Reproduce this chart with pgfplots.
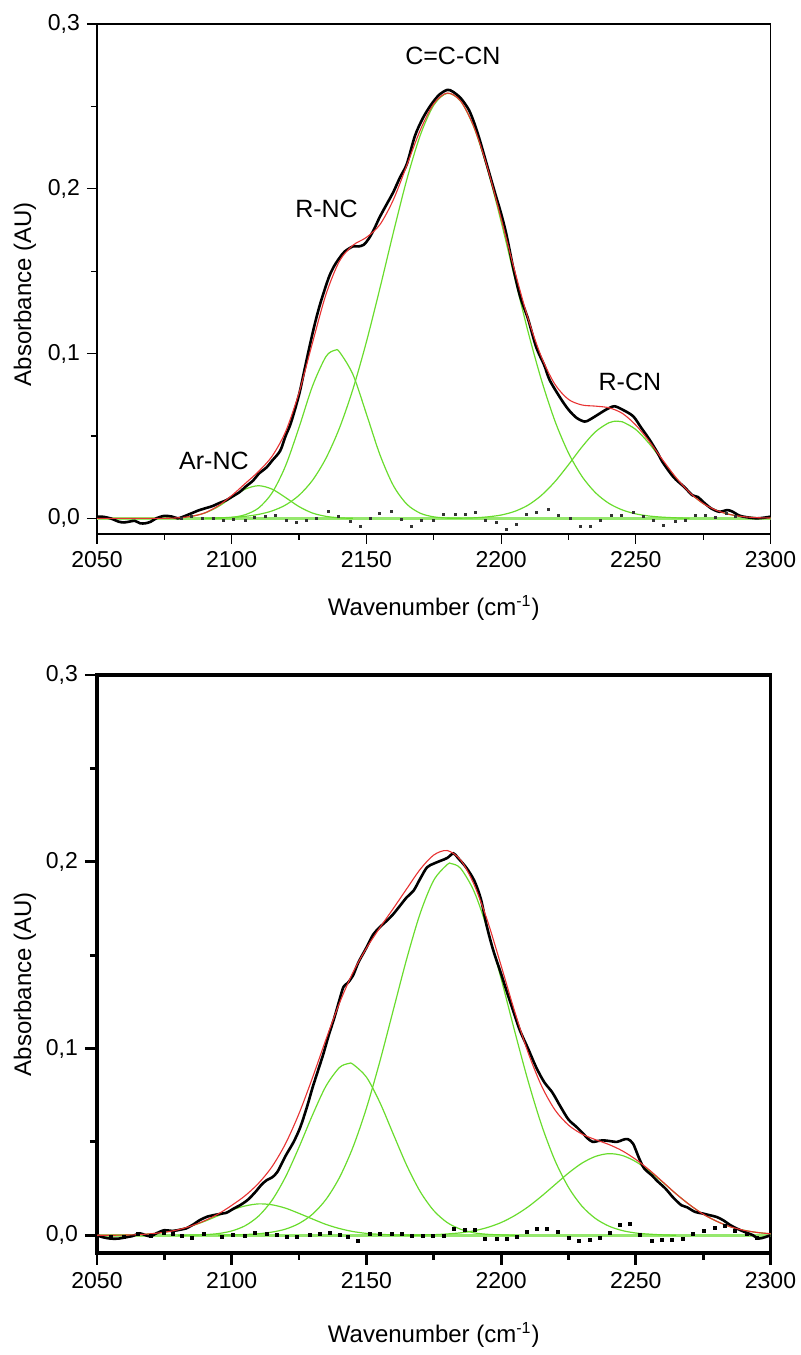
\documentclass[border=0pt]{standalone}
\usepackage{pgfplots}
\pgfplotsset{compat=1.18}
\usepackage{pgfplotstable}
\usepackage{fontspec}
\setmainfont{Liberation Sans}

\definecolor{fitgreen}{RGB}{105,220,45}
\definecolor{basegreen}{RGB}{150,232,110}
\definecolor{fitred}{RGB}{232,50,50}

% ---------------- top panel ----------------
\pgfplotstableread{
x y
2050 0.001
2052 0.001
2055 0.000
2058 -0.002
2060 -0.0025
2062 -0.002
2064 -0.0015
2066 -0.003
2068 -0.003
2070 -0.002
2072 0.000
2075 0.0015
2078 0.001
2080 0.000
2082 0.001
2085 0.003
2088 0.005
2090 0.006
2093 0.0075
2095 0.009
2098 0.011
2100 0.013
2103 0.016
2105 0.019
2108 0.023
2110 0.027
2113 0.031
2115 0.035
2118 0.041
2120 0.050
2122 0.058
2125 0.075
2127 0.090
2129 0.105
2131 0.119
2133 0.131
2136 0.146
2138 0.153
2140 0.158
2142 0.162
2145 0.165
2147 0.165
2149 0.166
2151 0.170
2153 0.176
2155 0.183
2158 0.192
2160 0.198
2162.5 0.207
2165 0.215
2168 0.232
2171 0.243
2174 0.251
2177 0.257
2180 0.260
2182 0.259
2185 0.255
2188 0.248
2190 0.240
2192 0.230
2195 0.213
2198 0.196
2200 0.185
2202 0.172
2204.5 0.152
2207 0.135
2210 0.121
2213 0.104
2216 0.093
2218 0.084
2222 0.073
2225 0.066
2228 0.061
2231 0.0587
2233 0.060
2236 0.063
2239 0.066
2242 0.068
2245 0.066
2249 0.062
2252 0.055
2255 0.048
2258 0.040
2260 0.034
2264 0.025
2268 0.019
2271 0.014
2273 0.013
2275 0.010
2278 0.006
2281 0.004
2284 0.005
2286 0.004
2288 0.002
2290 0.001
2295 0.000
2300 0.001
}\topblack

\pgfplotstableread{
x y
2050 0
2055 0
2060 0
2065 0
2070 0
2075 0
2080 0.0003
2085 0.0012
2090 0.0033
2095 0.0076
2100 0.0138
2105 0.0211
2110 0.0285
2115 0.0377
2120 0.0526
2125 0.0763
2130 0.1066
2135 0.1359
2140 0.1561
2145 0.1657
2150 0.1705
2155 0.1782
2160 0.1933
2165 0.2142
2170 0.2356
2175 0.2516
2180 0.2581
2185 0.2532
2190 0.2372
2195 0.2124
2200 0.1821
2205 0.1505
2210 0.1213
2215 0.0978
2220 0.0813
2225 0.0722
2230 0.0688
2235 0.0681
2240 0.0671
2245 0.0637
2250 0.0566
2255 0.0467
2260 0.0354
2265 0.0246
2270 0.0156
2275 0.0090
2280 0.0048
2285 0.0023
2290 0.0010
2295 0.0004
2300 0.0002
}\topred

\pgfplotstableread{
x y
2075 0
2080 0.0003
2085 0.0012
2090 0.0032
2095 0.0071
2100 0.0126
2105 0.0177
2110 0.0198
2115 0.0177
2120 0.0126
2125 0.0071
2130 0.0032
2135 0.0012
2140 0.0003
2145 0
}\topga

\pgfplotstableread{
x y
2090 0
2095 0.0002
2100 0.0006
2105 0.0022
2110 0.0063
2115 0.0155
2120 0.0319
2125 0.0552
2130 0.0803
2135 0.0982
2138.3 0.1020
2140 0.1010
2145 0.0873
2150 0.0634
2155 0.0387
2160 0.0199
2165 0.0086
2170 0.0031
2175 0.0009
2180 0.0002
2185 0
}\topgb

\pgfplotstableread{
x y
2090 0
2095 0.0003
2100 0.0006
2105 0.0012
2110 0.0024
2115 0.0045
2120 0.0081
2125 0.0140
2130 0.0231
2135 0.0365
2140 0.0548
2145 0.0784
2150 0.1071
2155 0.1395
2160 0.1734
2165 0.2056
2170 0.2325
2175 0.2507
2180 0.2579
2185 0.2531
2190 0.2369
2195 0.2115
2200 0.1801
2205 0.1463
2210 0.1133
2215 0.0838
2220 0.0590
2225 0.0397
2230 0.0255
2235 0.0156
2240 0.0091
2245 0.0051
2250 0.0027
2255 0.0014
2260 0.0007
2265 0.0003
2270 0
}\topgc

\pgfplotstableread{
x y
2180 0
2185 0.0001
2190 0.0003
2195 0.0009
2200 0.0020
2205 0.0042
2210 0.0080
2215 0.0140
2220 0.0223
2225 0.0325
2230 0.0433
2235 0.0525
2240 0.0580
2243 0.0590
2245 0.0586
2250 0.0539
2255 0.0453
2260 0.0347
2265 0.0243
2270 0.0155
2275 0.0090
2280 0.0048
2285 0.0023
2290 0.0010
2295 0.0004
2300 0.0002
}\topgd

\pgfplotstableread{
x y
2081.4 0
2085.2 0.001
2089.0 0.0
2093.2 0
2096.9 -0.001
2100.6 -0.0006
2104.9 -0.0014
2108.6 0.0006
2112.4 0.001
2116.1 0.002
2120.4 -0.001
2124.1 -0.0027
2127.8 -0.0014
2131.5 0
2135.9 0.004
2139.6 0.001
2144.0 -0.002
2147.6 -0.0047
2151.3 0
2155.0 0.003
2159.4 0.004
2163.1 -0.0006
2166.8 -0.005
2170.5 -0.0014
2174.8 -0.001
2178.6 0.0026
2182.9 0.0026
2186.6 0.0026
2190.3 0.0034
2194.0 -0.001
2198.4 -0.0027
2202.1 -0.0067
2205.8 -0.0035
2209.5 0.0026
2213.2 0.0034
2217.5 0.0055
2221.2 0.002
2225.6 0
2229.3 -0.0047
2233.0 -0.0047
2236.7 -0.0014
2241.0 0.002
2244.8 0.002
2249.1 0.0034
2252.8 0.0014
2256.5 -0.001
2260.2 -0.004
2264.6 -0.002
2268.3 -0.0014
2272.0 0.002
2275.7 0.002
2279.5 0.0006
2283.7 0.003
2287.0 0.001
}\topres

% ---------------- bottom panel ----------------
\pgfplotstableread{
x y
2050 0.0
2052 -0.001
2055 -0.0018
2058 -0.0018
2061 -0.001
2063 -0.0005
2066 0.001
2068 0.0
2070 -0.0005
2072 0.001
2075 0.0027
2078 0.0023
2081 0.003
2083 0.0036
2086 0.006
2088 0.008
2091 0.010
2093 0.0107
2096 0.0115
2098 0.012
2101 0.0145
2103 0.016
2106 0.019
2109 0.0235
2111 0.027
2113 0.0295
2115 0.031
2117 0.034
2120 0.0425
2123 0.050
2125.5 0.058
2128 0.069
2130 0.079
2132 0.088
2134 0.097
2136 0.107
2138 0.116
2140 0.126
2141.5 0.133
2143 0.135
2145 0.139
2147 0.146
2150 0.154
2152.5 0.161
2155 0.165
2158 0.169
2160 0.172
2162.5 0.1765
2165 0.181
2167.5 0.1845
2170 0.191
2172.5 0.197
2175 0.199
2177.5 0.2005
2180 0.202
2182.3 0.2045
2184 0.202
2187 0.197
2190 0.190
2192.5 0.180
2194.6 0.166
2197 0.153
2200 0.140
2202 0.131
2205 0.118
2207 0.1096
2210 0.100
2213 0.090
2216 0.082
2219 0.0765
2222 0.069
2225 0.062
2228 0.058
2230.5 0.0544
2232 0.052
2234 0.050
2236 0.0505
2238 0.0508
2240 0.0505
2243 0.050
2245 0.051
2247 0.0515
2249 0.049
2251 0.042
2253 0.036
2256 0.032
2258 0.029
2261 0.025
2264 0.020
2267 0.016
2269 0.015
2272 0.0125
2275 0.0116
2277.5 0.0107
2280 0.0098
2282.5 0.008
2285 0.0055
2287.5 0.0036
2290 0.002
2293.5 0.0
2295.5 -0.0018
2298 -0.001
2300 0.0
}\botblack

\pgfplotstableread{
x y
2050 0
2055 0
2060 0.0001
2065 0.0003
2070 0.0008
2075 0.0016
2080 0.0029
2085 0.0050
2090 0.0078
2095 0.0114
2100 0.0160
2105 0.0212
2110 0.0279
2115 0.0368
2120 0.0491
2125 0.0652
2130 0.0844
2135 0.1049
2140 0.1243
2145 0.1407
2150 0.1537
2155 0.1647
2160 0.1750
2165 0.1856
2170 0.1960
2175 0.2036
2180 0.2060
2185 0.2009
2190 0.1877
2195 0.1681
2200 0.1444
2205 0.1200
2210 0.0979
2215 0.0800
2220 0.0671
2225 0.0590
2230 0.0542
2235 0.0512
2240 0.0486
2245 0.0452
2250 0.0406
2255 0.0350
2260 0.0286
2265 0.0221
2270 0.0163
2275 0.0113
2280 0.0075
2285 0.0046
2290 0.0027
2295 0.0015
2300 0.0008
}\botred

\pgfplotstableread{
x y
2055 0
2060 0.0001
2065 0.0003
2070 0.0008
2075 0.0016
2080 0.0029
2085 0.0049
2090 0.0075
2095 0.0105
2100 0.0135
2105 0.0157
2110 0.0168
2115 0.0163
2120 0.0145
2125 0.0117
2130 0.0087
2135 0.0058
2140 0.0036
2145 0.0020
2150 0.0010
2155 0.0005
2160 0.0002
2165 0.0001
2170 0
}\botga

\pgfplotstableread{
x y
2080 0
2085 0.0001
2090 0.0003
2095 0.0009
2100 0.0023
2105 0.0051
2110 0.0103
2115 0.0188
2120 0.0313
2125 0.0472
2130 0.0644
2135 0.0799
2140 0.0898
2143.5 0.0920
2145 0.0916
2150 0.0847
2155 0.0711
2160 0.0541
2165 0.0373
2170 0.0233
2175 0.0132
2180 0.0068
2185 0.0032
2190 0.0013
2195 0.0005
2200 0.0002
2205 0
}\botgb

\pgfplotstableread{
x y
2095 0
2100 0.0002
2105 0.0004
2110 0.0008
2115 0.0017
2120 0.0033
2125 0.0063
2130 0.0113
2135 0.0192
2140 0.0309
2145 0.0471
2150 0.0680
2155 0.0931
2160 0.1207
2165 0.1482
2170 0.1725
2175 0.1901
2180 0.1985
2181.5 0.1990
2185 0.1964
2190 0.1840
2195 0.1634
2200 0.1374
2205 0.1095
2210 0.0827
2215 0.0591
2220 0.0400
2225 0.0257
2230 0.0156
2235 0.0090
2240 0.0049
2245 0.0025
2250 0.0012
2255 0.0006
2260 0.0002
2265 0
}\botgc

\pgfplotstableread{
x y
2165 0
2170 0.0002
2175 0.0003
2180 0.0007
2185 0.0013
2190 0.0024
2195 0.0042
2200 0.0068
2205 0.0105
2210 0.0152
2215 0.0209
2220 0.0271
2225 0.0333
2230 0.0386
2235 0.0422
2240 0.0437
2245 0.0427
2250 0.0394
2255 0.0344
2260 0.0284
2265 0.0221
2270 0.0163
2275 0.0113
2280 0.0075
2285 0.0046
2290 0.0027
2295 0.0015
2300 0.0008
}\botgd

\pgfplotstableread{
x y
2055 -0.001
2060 -0.001
2065 0.0005
2070 -0.0005
2075 0.001
2078 0.0005
2081.4 -0.0005
2085.2 -0.0012
2089.5 0.0009
2096.3 -0.0009
2100.6 0
2104.9 -0.0005
2108.6 0.0012
2113.0 0.0009
2116.7 0
2120.4 -0.0009
2124.1 -0.0009
2129.1 0
2132.8 0.0009
2136.5 0.0012
2140.2 0.0004
2143.3 -0.0009
2147.0 -0.003
2151.3 0.0009
2155.0 0.0009
2159.4 0.0009
2163.1 0.0005
2166.8 -0.0005
2171.1 -0.0005
2174.8 -0.0005
2178.6 -0.0005
2182.6 0.0036
2186.6 0.003
2190.3 0.003
2194.0 -0.0018
2198.4 -0.0018
2202.1 -0.0018
2205.8 -0.0009
2209.5 0.0018
2213.2 0.0036
2216.9 0.0036
2221.2 0.0018
2225.0 -0.0012
2228.7 -0.003
2233.0 -0.0023
2236.7 -0.0012
2240.4 0.0012
2244.1 0.0053
2247.9 0.0063
2251.6 0
2255.9 -0.003
2259.6 -0.0027
2263.3 -0.0023
2267.6 -0.0018
2271.3 0.0005
2275.1 0.0023
2279.3 0.0041
2283.1 0.0048
2286.8 0.0023
2291.2 0.0005
2294.9 -0.0012
}\botres

\newcommand{\labfont}{\fontsize{12}{14}\selectfont}
\newcommand{\tickfont}{\fontsize{11.5}{13}\selectfont}
\newcommand{\annfont}{\fontsize{12.5}{14}\selectfont}

\pgfplotsset{
  panel/.style={
    scale only axis,
    anchor=south west,
    width=336.75pt,
    xmin=2050, xmax=2300,
    ymin=-0.0095, ymax=0.3,
    xtick={2050,2100,2150,2200,2250,2300},
    xticklabels={2050,2100,2150,2200,2250,2300},
    minor x tick num=1,
    ytick={0,0.1,0.2,0.3},
    yticklabels={{0,0},{0,1},{0,2},{0,3}},
    minor y tick num=1,
    tick align=outside,
    xtick pos=bottom,
    ytick pos=left,
    major tick length=5pt,
    minor tick length=3pt,
    tick style={black},
    xticklabel style={font=\tickfont},
    yticklabel style={font=\tickfont},
    xlabel={Wavenumber (cm\textsuperscript{-1})},
    ylabel={Absorbance (AU)},
    every axis x label/.style={at={(rel axis cs:0.5,0)}, anchor=center, font=\labfont},
    every axis y label/.style={at={(rel axis cs:0,0.47)}, anchor=center, xshift=-36pt, rotate=90, font=\labfont},
    clip=true,
  },
  blk/.style={black, line width=1.3pt, smooth},
  red/.style={fitred, line width=0.55pt, smooth},
  grn/.style={fitgreen, line width=0.6pt, smooth},
  base/.style={basegreen, line width=1.4pt},
}

\begin{document}
\begin{tikzpicture}
\useasboundingbox (0,0) rectangle (400.5pt,677.5pt);

% top
\begin{axis}[panel, at={(48.5pt,410.5pt)}, height=255pt,
  axis line style={line width=0.6pt},
  every axis x label/.append style={yshift=-37pt},
  tick style={line width=0.6pt}]
\addplot[base] coordinates {(2050,0) (2300,0)};
\addplot[grn] table {\topga};
\addplot[grn] table {\topgb};
\addplot[grn] table {\topgc};
\addplot[grn] table {\topgd};
\addplot[only marks, mark=square*, mark size=0.5pt, black!80] table {\topres};
\addplot[blk] table {\topblack};
\addplot[red] table {\topred};
\node[font=\annfont] at (axis cs:2182.1,0.2804) {C=C-CN};
\node[font=\annfont] at (axis cs:2135.2,0.1875) {R-NC};
\node[font=\annfont] at (axis cs:2093.4,0.0349) {Ar-NC};
\node[font=\annfont] at (axis cs:2247.8,0.0829) {R-CN};
\end{axis}

% bottom
\begin{axis}[panel, at={(48.5pt,51pt)}, height=289pt,
  axis line style={line width=1.6pt},
  every axis x label/.append style={yshift=-41pt},
  every axis y label/.append style={at={(rel axis cs:0,0.465)}},
  tick style={line width=1.4pt},
  major tick length=6pt, minor tick length=3.5pt]
\addplot[base] coordinates {(2050,0) (2300,0)};
\addplot[grn] table {\botga};
\addplot[grn] table {\botgb};
\addplot[grn] table {\botgc};
\addplot[grn] table {\botgd};
\addplot[only marks, mark=square*, mark size=0.75pt, black] table {\botres};
\addplot[blk] table {\botblack};
\addplot[red] table {\botred};
\end{axis}
\end{tikzpicture}
\end{document}
